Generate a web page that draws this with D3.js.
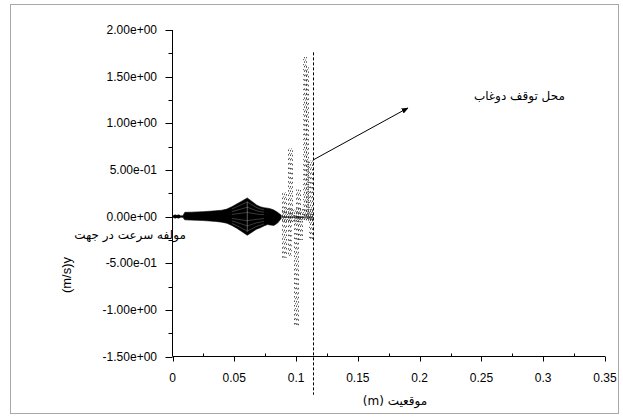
<!DOCTYPE html>
<html><head><meta charset="utf-8">
<script src="https://cdn.jsdelivr.net/npm/d3@7"></script>
<style>body{margin:0;background:#fff}svg{display:block}</style>
</head><body>
<svg id="chart" width="623" height="418"></svg>
<script>
// Axis ticks and labels
const xTicks = [0, 0.05, 0.1, 0.15, 0.2, 0.25, 0.3, 0.35];
const xTickLabels = ["0", "0.05", "0.1", "0.15", "0.2", "0.25", "0.3", "0.35"];
const yTicks = [-1.5, -1, -0.5, 0, 0.5, 1, 1.5, 2];
const yTickLabels = ["-1.50e+00", "-1.00e+00", "-5.00e-01", "0.00e+00", "5.00e-01", "1.00e+00", "1.50e+00", "2.00e+00"];

// Envelope of the compact oscillating part (position m, velocity m/s)
const envX  = [0.000, 0.0085, 0.0095, 0.010, 0.015, 0.020, 0.025, 0.030, 0.035, 0.040, 0.044, 0.048, 0.052, 0.056, 0.0605, 0.064, 0.068, 0.071, 0.074, 0.077, 0.079, 0.082, 0.085, 0.088];
const envHi = [0.008, 0.008, 0.035, 0.045, 0.047, 0.050, 0.053, 0.057, 0.062, 0.068, 0.080, 0.105, 0.135, 0.165, 0.200, 0.165, 0.125, 0.105, 0.095, 0.090, 0.085, 0.070, 0.045, 0.015];
const envLo = [-0.008, -0.008, -0.030, -0.035, -0.038, -0.040, -0.043, -0.047, -0.052, -0.060, -0.072, -0.095, -0.125, -0.160, -0.200, -0.170, -0.135, -0.120, -0.100, -0.085, -0.090, -0.095, -0.070, -0.020];

// Marker points on the leading thin segment
const markerX = [0.0022, 0.0048];

// Scattered velocity spikes before the stop point
const spikeX0  = [0.0890, 0.0935, 0.0935, 0.0985, 0.1000, 0.1015, 0.1058, 0.1082, 0.1092, 0.1105, 0.0885];
const spikeX1  = [0.0918, 0.0965, 0.0962, 0.1015, 0.1035, 0.1045, 0.1080, 0.1100, 0.1135, 0.1135, 0.1137];
const spikeTop = [0.26, 0.73, 0.00, 0.02, 0.29, 0.00, 1.71, 1.60, 0.60, 0.00, 0.08];
const spikeBot = [-0.44, -0.02, -0.42, -1.17, -0.04, -0.25, -0.03, 0.00, -0.05, -0.26, -0.06];

// Stop location of the grout and its annotation
const stopX = 0.1137;
const stopLineTop = 1.76, stopLineBottom = -1.91;
const arrowFrom = [0.1137, 0.606], arrowTo = [0.1905, 1.164];
const noteAt = [0.2807, 1.292];
const noteText = "محل توقف دوغاب";
const xTitle = "موقعیت (m)";
const yTitleFa = "مولفه سرعت در جهت";
const yTitleUnit = "(m/s)y";

const svg = d3.select("#chart");
const x = d3.scaleLinear().domain([0, 0.35]).range([172.5, 605]);
const y = d3.scaleLinear().domain([-1.5, 2]).range([356.5, 30]);
const latin = "'Liberation Sans', Arial, sans-serif";
const arabic = "'DejaVu Sans', sans-serif";

// outer frame
svg.append("rect").attr("x", 10.5).attr("y", 4.5).attr("width", 608).attr("height", 409)
  .attr("fill", "none").attr("stroke", "#a8a8a8");

// data: compact envelope
const env = envX.map((d, i) => ({x: d, hi: envHi[i], lo: envLo[i]}));
svg.append("path").datum(env)
  .attr("d", d3.area().x(d => x(d.x)).y0(d => y(d.lo)).y1(d => y(d.hi)))
  .attr("fill", "#000").attr("stroke", "#000").attr("stroke-width", 0.6);

// faint strands crossing the widest lobe
const strandF = [-0.78, -0.5, -0.22, 0.22, 0.5, 0.78];
const lobe = env.filter(d => d.x >= 0.048 && d.x <= 0.074);
strandF.forEach(f => {
  svg.append("path").datum(lobe)
    .attr("d", d3.line().x(d => x(d.x)).y(d => y(f > 0 ? f * d.hi : -f * d.lo)))
    .attr("fill", "none").attr("stroke", "#fff").attr("stroke-width", 0.5).attr("opacity", 0.45);
});
svg.append("line").attr("x1", x(0.0605)).attr("x2", x(0.0605))
  .attr("y1", y(0.16)).attr("y2", y(-0.16)).attr("stroke", "#fff").attr("stroke-width", 0.6).attr("opacity", 0.6);

svg.selectAll("circle.mk").data(markerX).join("circle").attr("class", "mk")
  .attr("cx", d => x(d)).attr("cy", y(0)).attr("r", 2).attr("fill", "#000");

// spikes drawn as speckled vertical columns
spikeX0.forEach((x0, i) => {
  const p0 = Math.round(x(x0)), p1 = Math.round(x(spikeX1[i]));
  for (let p = p0; p <= p1; p++) {
    svg.append("line").attr("x1", p + 0.5).attr("x2", p + 0.5)
      .attr("y1", y(spikeTop[i])).attr("y2", y(spikeBot[i]))
      .attr("stroke", "#2a2a2a").attr("stroke-width", 1)
      .attr("stroke-dasharray", (p % 2 ? "1 4" : "1.5 3"))
      .attr("stroke-dashoffset", (p * 2.3 + i) % 5)
      .attr("opacity", 0.8);
  }
});
// zero line through the spike zone
svg.append("line").attr("x1", x(0.0885)).attr("x2", x(stopX))
  .attr("y1", y(0) + 0.5).attr("y2", y(0) + 0.5).attr("stroke", "#000");

// axes
const g = svg.append("g").attr("font-family", latin).attr("font-size", 12).attr("fill", "#000");
g.append("line").attr("x1", x(0)).attr("x2", x(0)).attr("y1", y(2)).attr("y2", y(-1.5)).attr("stroke", "#000");
g.append("line").attr("x1", x(0)).attr("x2", x(0.35)).attr("y1", y(-1.5)).attr("y2", y(-1.5)).attr("stroke", "#000");

yTicks.forEach((t, i) => {
  g.append("line").attr("x1", x(0) - 7).attr("x2", x(0)).attr("y1", Math.round(y(t)) + 0.5).attr("y2", Math.round(y(t)) + 0.5).attr("stroke", "#000");
  g.append("text").attr("x", 157).attr("y", y(t) + 4).attr("text-anchor", "end").text(yTickLabels[i]);
  if (i < yTicks.length - 1) {
    const m = (t + yTicks[i + 1]) / 2;
    g.append("line").attr("x1", x(0) - 4).attr("x2", x(0)).attr("y1", Math.round(y(m)) + 0.5).attr("y2", Math.round(y(m)) + 0.5).attr("stroke", "#000");
  }
});
xTicks.forEach((t, i) => {
  const px = Math.round(x(t)) + 0.5;
  g.append("line").attr("x1", px).attr("x2", px).attr("y1", y(-1.5)).attr("y2", y(-1.5) + 5).attr("stroke", "#000");
  g.append("text").attr("x", x(t)).attr("y", 382).attr("text-anchor", "middle").text(xTickLabels[i]);
  if (i < xTicks.length - 1) {
    const mx = Math.round(x((t + xTicks[i + 1]) / 2)) + 0.5;
    g.append("line").attr("x1", mx).attr("x2", mx).attr("y1", y(-1.5) - 3).attr("y2", y(-1.5)).attr("stroke", "#000");
  }
});

// stop line and annotation
svg.append("line").attr("x1", Math.round(x(stopX)) + 0.5).attr("x2", Math.round(x(stopX)) + 0.5)
  .attr("y1", y(stopLineTop)).attr("y2", y(stopLineBottom))
  .attr("stroke", "#000").attr("stroke-dasharray", "3 2");
svg.append("defs").append("marker").attr("id", "ah").attr("viewBox", "0 0 10 10")
  .attr("refX", 9).attr("refY", 5).attr("markerWidth", 7).attr("markerHeight", 7).attr("orient", "auto")
  .append("path").attr("d", "M0,1L10,5L0,9Z").attr("fill", "#000");
svg.append("line").attr("x1", x(arrowFrom[0])).attr("y1", y(arrowFrom[1]))
  .attr("x2", x(arrowTo[0])).attr("y2", y(arrowTo[1]))
  .attr("stroke", "#000").attr("marker-end", "url(#ah)");
svg.append("text").attr("x", x(noteAt[0])).attr("y", y(noteAt[1]) + 4)
  .attr("text-anchor", "middle").attr("font-family", arabic).attr("font-size", 12).text(noteText);

// axis titles
svg.append("text").attr("x", 395).attr("y", 405).attr("text-anchor", "middle")
  .attr("font-family", arabic).attr("font-size", 12).attr("direction", "rtl").text(xTitle);
svg.append("text").attr("x", 130).attr("y", 239).attr("text-anchor", "middle")
  .attr("font-family", arabic).attr("font-size", 12).text(yTitleFa);
svg.append("text").attr("transform", "translate(71,275) rotate(-90)").attr("text-anchor", "middle")
  .attr("font-family", latin).attr("font-size", 13).text(yTitleUnit);
</script>
</body></html>
